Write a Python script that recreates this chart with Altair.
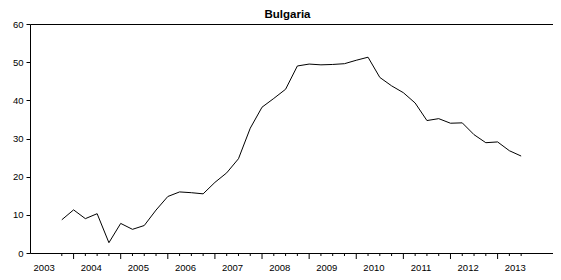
import altair as alt
import pandas as pd

# Quarterly series, 2003Q4 .. 2013Q3
years = [2003] + [y for y in range(2004, 2013) for _ in range(4)] + [2013, 2013, 2013]
quarters = [4] + [q for _ in range(2004, 2013) for q in (1, 2, 3, 4)] + [1, 2, 3]
values = [
    8.7,
    11.3, 9.0, 10.3, 2.7,
    7.75, 6.2, 7.2, 11.25,
    14.8, 16.0, 15.8, 15.5,
    18.5, 21.0, 24.7, 32.7,
    38.2, 40.5, 42.9, 49.0,
    49.5, 49.3, 49.4, 49.6,
    50.5, 51.3, 46.0, 43.8,
    42.0, 39.3, 34.7, 35.2,
    34.0, 34.1, 31.0, 28.9,
    29.1, 26.8, 25.4,
]
label_years = list(range(2003, 2014))
y_ticks = [0, 10, 20, 30, 40, 50, 60]

FONT = "Liberation Sans Narrow, Arial Narrow, Liberation Sans, sans-serif"

t = [y + (q - 1) / 4 for y, q in zip(years, quarters)]
df = pd.DataFrame({"t": t, "v": values, "q": quarters})
ticks = pd.DataFrame({"t": t, "major": [q == 1 for q in quarters]})
labels = pd.DataFrame({"t": [y + 0.375 for y in label_years], "lab": [str(y) for y in label_years]})

xscale = alt.Scale(domain=[2003.075, 2014.176], nice=False, zero=False)
yscale = alt.Scale(domain=[0, 60], nice=False)

line = alt.Chart(df).mark_line(color="black", strokeWidth=1).encode(
    x=alt.X("t:Q", scale=xscale, axis=None),
    y=alt.Y("v:Q", scale=yscale, axis=alt.Axis(
        values=y_ticks, title=None, grid=False, domain=False, tickSize=4,
        tickColor="black", labelColor="black", labelFont=FONT, labelFontSize=9.5,
        labelPadding=3)),
)

major = alt.Chart(ticks).transform_filter("datum.major").mark_rule(color="black", strokeWidth=1).encode(
    x=alt.X("t:Q", scale=xscale, axis=None),
    y=alt.value(229), y2=alt.value(235),
)
minor = alt.Chart(ticks).transform_filter("!datum.major").mark_rule(color="black", strokeWidth=1).encode(
    x=alt.X("t:Q", scale=xscale, axis=None),
    y=alt.value(229), y2=alt.value(232),
)
text = alt.Chart(labels).mark_text(font=FONT, fontSize=9.5, color="black", baseline="middle", align="center").encode(
    x=alt.X("t:Q", scale=xscale, axis=None),
    y=alt.value(244),
    text="lab:N",
)

chart = alt.layer(line, major, minor, text).properties(
    width=523, height=229,
    title=alt.TitleParams("Bulgaria", font=FONT, fontSize=11.5, fontWeight="bold",
                          color="black", anchor="middle", dx=-4, offset=-1),
    autosize=alt.AutoSizeParams(type="none"),
    padding={"left": 22, "top": 16, "right": 0, "bottom": 20},
    background="white",
).configure_view(stroke="black", strokeWidth=1)

chart.save("out.html", embed_options={"renderer": "svg", "actions": False})
